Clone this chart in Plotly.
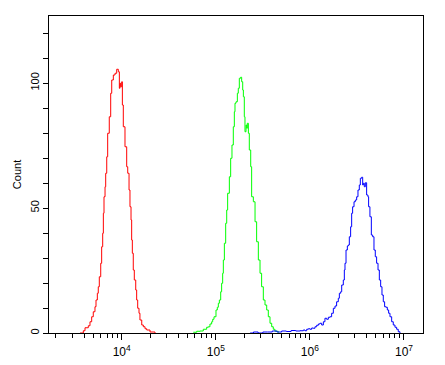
import plotly.graph_objects as go

# log10 of fluorescence intensity and counts for each histogram
red_log = [3.557, 3.592, 3.610, 3.645, 3.663, 3.681, 3.698, 3.716, 3.727, 3.741, 3.751, 3.762,
           3.777, 3.787, 3.798, 3.805, 3.812, 3.823, 3.830, 3.841, 3.851, 3.868, 3.883, 3.894,
           3.911, 3.929, 3.947, 3.964, 3.975, 3.982, 3.989, 4.000, 4.007, 4.017, 4.035, 4.053,
           4.064, 4.078, 4.088, 4.099, 4.106, 4.113, 4.123, 4.134, 4.149, 4.159, 4.170, 4.184,
           4.194, 4.213, 4.230, 4.248, 4.266, 4.301, 4.354]
red_count = [0, 0.9, 2.1, 2.9, 4.5, 6.5, 8.5, 10.5, 13.2, 15.9, 18.5, 22.5,
             27.9, 34.5, 39.9, 47.9, 54.5, 58.5, 63.9, 70.5, 79.9, 86.5, 95.9, 101.2,
             103.2, 103.9, 105.5, 104.5, 97.9, 99.9, 98.5, 100.5, 91.2, 82.5, 74.5, 66.5,
             63.9, 57.2, 50.5, 45.2, 37.2, 31.9, 25.2, 21.2, 17.2, 13.2, 9.9, 7.9,
             5.2, 3.2, 2.5, 1.7, 1.2, 0.4, 0]

green_log = [4.761, 4.797, 4.832, 4.867, 4.903, 4.921, 4.938, 4.956, 4.967, 4.981, 5.002, 5.016,
             5.027, 5.038, 5.052, 5.062, 5.073, 5.080, 5.091, 5.105, 5.116, 5.126, 5.144, 5.158,
             5.172, 5.186, 5.197, 5.204, 5.215, 5.229, 5.239, 5.250, 5.264, 5.275, 5.286, 5.293,
             5.303, 5.310, 5.321, 5.328, 5.335, 5.346, 5.356, 5.371, 5.381, 5.399, 5.417, 5.434,
             5.452, 5.470, 5.487, 5.505, 5.523, 5.541, 5.558, 5.576, 5.594, 5.611, 5.629, 5.664]
green_count = [0.3, 0.7, 0.8, 1.5, 2.3, 2.5, 3.6, 4.5, 5.5, 6.5, 9.2, 10.3,
               11.9, 13.2, 16.5, 19.9, 23.9, 29.2, 35.9, 43.9, 49.2, 55.9, 62.5, 69.9,
               75.2, 82.5, 88.5, 91.9, 92.5, 95.9, 97.9, 101.9, 102.3, 100.5, 97.2, 94.5,
               86.5, 80.5, 83.2, 81.9, 83.9, 79.9, 73.2, 66.5, 54.5, 52.5, 44.5, 36.5,
               29.2, 23.9, 18.5, 13.2, 11.2, 9.2, 6.5, 3.9, 2.5, 1.5, 0.7, 0.1]

blue_log = [5.365, 5.400, 5.450, 5.500, 5.550, 5.600, 5.650, 5.700, 5.750, 5.800, 5.850,
            5.895, 5.930, 5.948, 5.966, 5.983, 6.001, 6.019, 6.036, 6.054, 6.072, 6.090, 6.107,
            6.125, 6.143, 6.160, 6.178, 6.196, 6.214, 6.231, 6.249, 6.267, 6.284, 6.302, 6.313,
            6.327, 6.338, 6.355, 6.366, 6.373, 6.384, 6.398, 6.408, 6.419, 6.433, 6.444, 6.454,
            6.469, 6.483, 6.497, 6.511, 6.525, 6.536, 6.550, 6.561, 6.568, 6.578, 6.589, 6.603,
            6.617, 6.624, 6.638, 6.653, 6.667, 6.681, 6.695, 6.709, 6.724, 6.738, 6.752, 6.766,
            6.780, 6.794, 6.809, 6.823, 6.837, 6.851, 6.869, 6.886, 6.904, 6.922, 6.939, 6.957]
blue_count = [0, 0.4, 0, 0.4, 0.4, 0.8, 0.4, 0.8, 0.6, 1.0, 0.8,
              0.9, 1.2, 0.9, 1.5, 1.7, 1.5, 2.0, 1.9, 2.5, 3.1, 3.6, 3.9,
              3.2, 4.5, 5.9, 5.5, 6.3, 6.5, 7.9, 9.9, 10.8, 12.5, 13.9, 15.9,
              16.5, 19.2, 21.2, 25.2, 27.9, 33.2, 34.8, 35.2, 38.5, 42.5, 47.9, 50.5,
              52.5, 53.2, 54.5, 57.2, 59.2, 61.9, 62.3, 59.2, 59.9, 58.5, 60.1, 55.2,
              54.5, 50.5, 46.5, 39.2, 38.5, 33.2, 30.5, 27.9, 25.2, 21.2, 18.5, 15.2,
              12.5, 10.5, 10.3, 9.2, 7.9, 6.5, 4.5, 3.2, 2.3, 1.5, 0.5, 0]

x_tick_vals = [1e4, 1e5, 1e6, 1e7]
x_tick_text = ["10<sup>4</sup>", "10<sup>5</sup>", "10<sup>6</sup>", "10<sup>7</sup>"]
y_tick_vals = [0, 50, 100]
y_tick_text = ["0", "50", "100"]

FONT = "Arial, Liberation Sans, sans-serif"

fig = go.Figure()
for xs, ys, col in [(red_log, red_count, "#ff0000"),
                    (green_log, green_count, "#00ff00"),
                    (blue_log, blue_count, "#0000ff")]:
    fig.add_trace(go.Scatter(x=[10 ** v for v in xs], y=ys, mode="lines",
                             line=dict(color=col, width=1, shape="hv"),
                             showlegend=False, hoverinfo="skip"))

minor_vals = [m * 10 ** e for e in range(3, 7) for m in range(2, 10)]

# page body has an 8px default margin, so the figure is shrunk by 8px
fig.update_layout(
    width=437, height=357,
    margin=dict(l=41, r=22, t=8, b=32, autoexpand=False),
    paper_bgcolor="white", plot_bgcolor="white",
    font=dict(family=FONT, size=12, color="black"),
    xaxis=dict(type="log", range=[3.2274, 7.2020], showgrid=False, zeroline=False,
               showline=True, linecolor="black", linewidth=1, mirror=True,
               automargin=False,
               ticks="outside", ticklen=6, tickwidth=1, tickcolor="black",
               tickvals=x_tick_vals, ticktext=x_tick_text, ticklabelstandoff=2,
               tickfont=dict(family=FONT, size=12, color="black"),
               minor=dict(ticks="outside", ticklen=4, tickwidth=1, tickcolor="black",
                          tickvals=minor_vals, showgrid=False)),
    yaxis=dict(range=[0, 126.8], showgrid=False, zeroline=False,
               showline=True, linecolor="black", linewidth=1, mirror=True,
               automargin=False,
               ticks="outside", ticklen=5, tickwidth=1, tickcolor="black",
               tickvals=y_tick_vals, ticktext=y_tick_text, tickangle=-90,
               tickfont=dict(family=FONT, size=11, color="black"),
               minor=dict(ticks="outside", ticklen=5, tickwidth=1, tickcolor="black",
                          dtick=10, tick0=0, showgrid=False),
               title=dict(text="Count", standoff=4,
                          font=dict(family=FONT, size=11, color="black"))),
)

fig.write_html("out.html")
